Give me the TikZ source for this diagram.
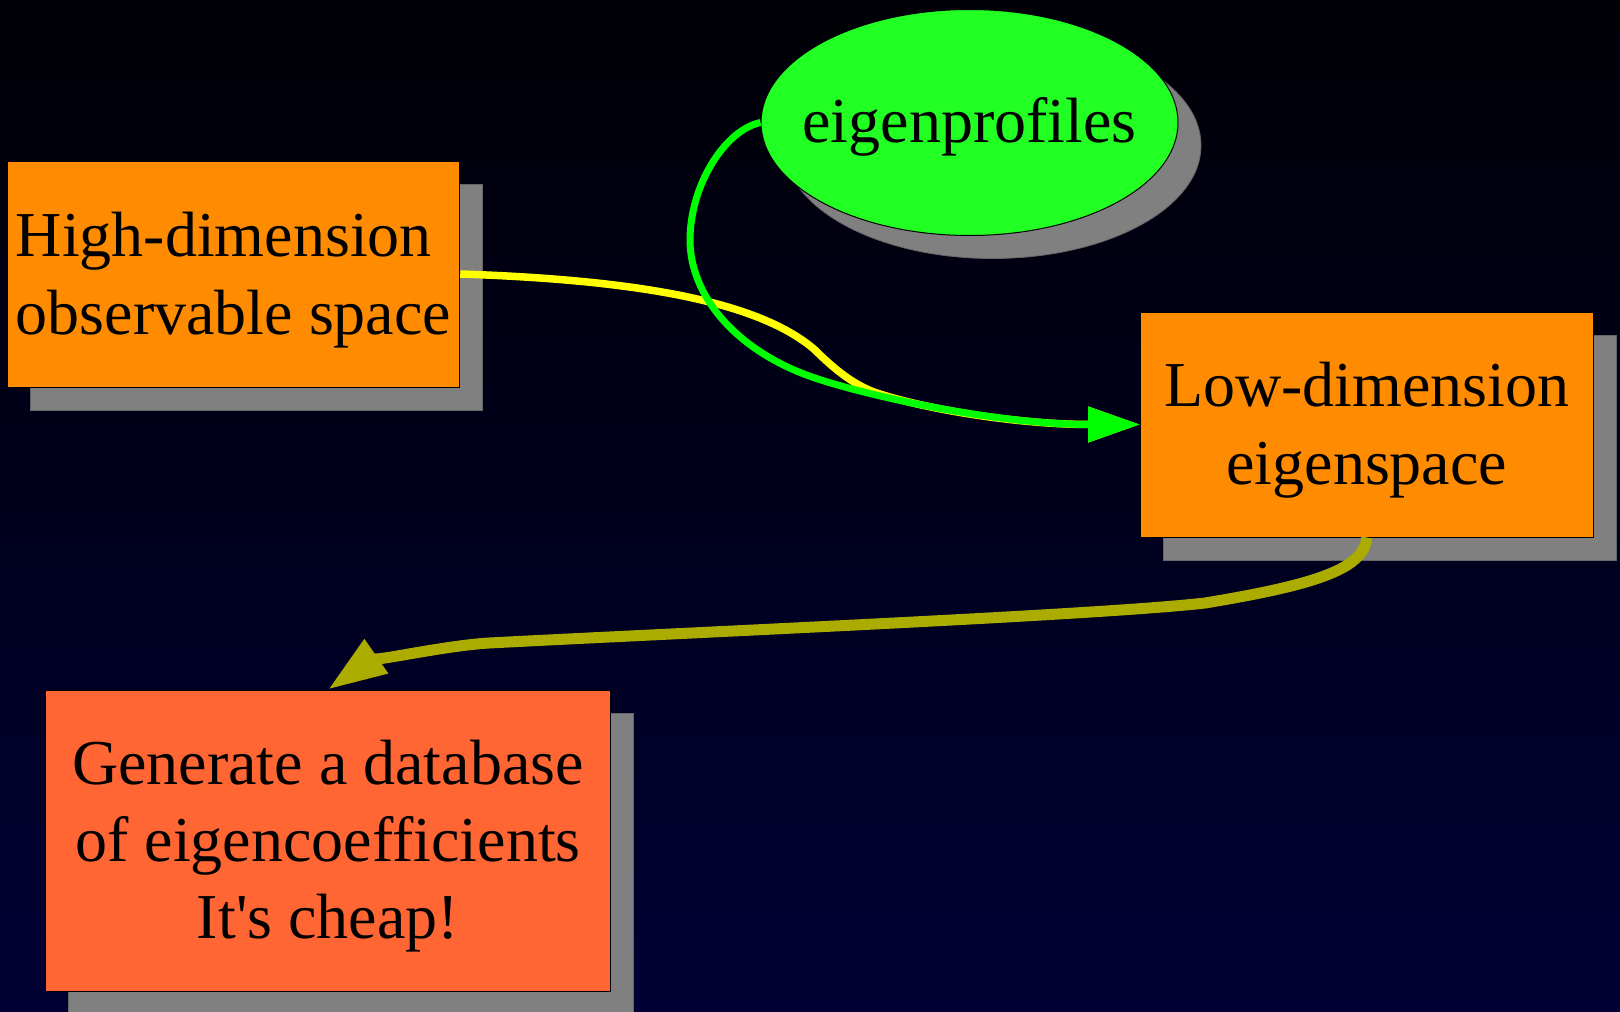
\documentclass[tikz,border=0pt]{standalone}
\usepackage{fontspec}
\setmainfont{Liberation Serif}
\usetikzlibrary{shapes.geometric,arrows.meta,shadows}
\definecolor{bgtop}{RGB}{0,0,6}
\definecolor{bgbot}{RGB}{0,0,52}
\definecolor{boxorange}{RGB}{255,140,0}
\definecolor{boxcoral}{RGB}{255,102,51}
\definecolor{ellgreen}{RGB}{34,255,34}
\definecolor{arrgreen}{RGB}{0,255,0}
\definecolor{arryellow}{RGB}{255,255,0}
\definecolor{arrolive}{RGB}{172,172,0}
\definecolor{shadowgray}{RGB}{128,128,128}
\begin{document}
\begin{tikzpicture}[x=0.5pt,y=-0.5pt,
  shad/.style={general shadow={fill=shadowgray, draw=shadowgray!80!black, line width=0.4pt,
      shadow xshift=11.5pt, shadow yshift=-11.5pt}},
  lbl/.style={font=\fontsize{32}{38.7}\selectfont, text=black, inner sep=0pt},
  box/.style={rectangle, draw=black, line width=0.5pt, shad, inner sep=0pt},
  ell/.style={ellipse, draw=black, line width=0.5pt, shad, inner sep=0pt, fill=ellgreen},
  edgeyellow/.style={draw=arryellow, line width=3.75pt, -{Triangle[length=26pt,width=17pt]}, arryellow},
  edgegreen/.style={draw=arrgreen, line width=3.5pt, -{Triangle[length=26pt,width=17pt]}, arrgreen},
  edgeolive/.style={draw=arrolive, line width=5.5pt, -{Triangle[length=29.4pt,width=19.4pt]}, arrolive}]
\useasboundingbox (0,0) rectangle (1620,1011);
\shade[top color=bgtop, bottom color=bgbot] (0,0) rectangle (1620,1011);

\node[box, fill=boxorange, minimum width=226.25pt, minimum height=113pt] (b1) at (233.5,274) {};
\node[lbl, align=left] (b1t) at (233.5,280) {High-dimension\\observable space};
\node[box, fill=boxorange, minimum width=226.2pt, minimum height=112.5pt] (b2) at (1366.8,424.5) {};
\node[lbl, align=center] (b2t) at (1366.8,430) {Low-dimension\\eigenspace};
\node[box, fill=boxcoral, minimum width=282.5pt, minimum height=150.85pt] (b3) at (328,840.9) {};
\node[lbl, align=center] (b3t) at (328,846) {Generate a database\\of eigencoefficients\\It\textquotesingle s cheap!};
\node[ell, minimum width=208.5pt, minimum height=113pt] (e) at (969.5,122.5) {};
\node[lbl, anchor=base] (etext) at (969.5,142.5) {eigenprofiles};

\draw[edgeyellow] (b1.east) .. controls (640,280) and (760,302) .. (815,350)
  .. controls (840,375) and (860,388) .. (880,394)
  .. controls (930,410) and (1020,424.5) .. (b2.west);
\draw[edgegreen] (e.west) .. controls (725,130) and (690,185) .. (690,240)
  .. controls (690,295) and (735,350) .. (812,377)
  .. controls (870,397) and (1000,424.5) .. (b2.west);
\draw[edgeolive] (b2.south) .. controls (1364,568) and (1320,584) .. (1205,603)
  .. controls (1100,615) and (700,632) .. (489,643)
  .. controls (440,646) and (365,664) .. (b3.north);
\end{tikzpicture}
\end{document}
